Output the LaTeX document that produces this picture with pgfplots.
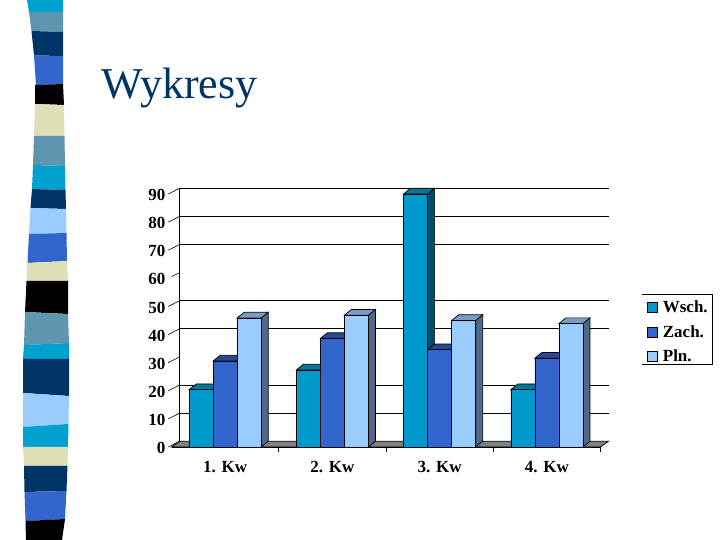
\documentclass[border=0pt]{standalone}
\usepackage{fontspec}
\setmainfont{Liberation Serif}
\usepackage{pgfplots}
\pgfplotsset{compat=1.18}
\definecolor{cyanB}{RGB}{0,153,204}
\definecolor{blueB}{RGB}{51,102,204}
\definecolor{lightB}{RGB}{153,204,255}
\definecolor{steelB}{RGB}{95,150,175}
\definecolor{navyB}{RGB}{0,51,102}
\definecolor{beigeB}{RGB}{224,224,184}
\definecolor{cyanS}{RGB}{0,160,208}
\definecolor{cyanSide}{RGB}{0,78,108}
\definecolor{cyanTop}{RGB}{0,118,152}
\definecolor{blueSide}{RGB}{38,72,140}
\definecolor{blueTop}{RGB}{38,72,150}
\definecolor{lightSide}{RGB}{78,106,136}
\definecolor{lightTop}{RGB}{120,155,200}
\definecolor{floorG}{RGB}{128,128,128}
\newcommand{\labelfont}{\fontsize{17pt}{20pt}\selectfont\bfseries}
% depth faces of one bar: category, series offset, value, side colour, top colour
\newcommand{\Depth}[5]{%
  \pgfmathsetmacro{\xl}{#1+#2*0.2239-0.3358}%
  \pgfmathsetmacro{\xr}{\xl+0.2239}%
  \pgfmathsetmacro{\xlb}{\xl+0.0653}%
  \pgfmathsetmacro{\xrb}{\xr+0.0653}%
  \pgfmathsetmacro{\vb}{#3+2.03}%
  \addplot[fill=#4,draw=black,line width=0.7pt,forget plot] coordinates {(\xr,0) (\xrb,2.03) (\xrb,\vb) (\xr,#3)} -- cycle;
  \addplot[fill=#5,draw=black,line width=0.7pt,forget plot] coordinates {(\xl,#3) (\xlb,\vb) (\xrb,\vb) (\xr,#3)} -- cycle;
}
\newcommand{\Band}[9]{\fill[#1] (#2,#3) -- (#4,#5) -- (#6,#7) -- (#8,#9) -- cycle;}
\begin{document}
\begin{tikzpicture}
\useasboundingbox (0,0) rectangle (720pt,540pt);
\fill[white] (0,0) rectangle (720pt,540pt);
% decorative strip, in pixels from the top left
\begin{scope}[x=1pt,y=-1pt,yshift=540pt]
\Band{cyanS}{27}{0}{63}{0}{63}{12}{29}{12}
\Band{steelB}{29}{12}{63}{12}{63}{32}{31.5}{31}
\Band{navyB}{31.5}{31}{63}{32}{63}{56}{34}{55.5}
\Band{blueB}{34}{55.5}{63}{56}{63}{84}{36}{85}
\Band{black}{35}{85}{63}{84}{64}{105}{35}{104}
\Band{beigeB}{35}{104}{64}{105}{64.5}{136}{34}{136}
\Band{steelB}{34}{136}{64.5}{136}{65}{166}{33}{165}
\Band{cyanS}{33}{165}{65}{166}{65.5}{190}{32}{189}
\Band{navyB}{32}{189}{65.5}{190}{66}{209}{30.5}{208}
\Band{lightB}{30.5}{208}{66}{209}{66.5}{233}{29}{234}
\Band{blueB}{29}{234}{66.5}{233}{67}{261}{27.5}{263}
\Band{beigeB}{27}{263}{67}{261}{68}{281}{26.5}{281}
\Band{black}{26.5}{281}{68}{281}{68}{314}{25}{312}
\Band{steelB}{25}{312}{68}{314}{69}{343}{24}{345}
\Band{cyanS}{24}{345}{69}{343}{69}{359}{23}{359}
\Band{navyB}{23}{359}{69}{359}{69}{396}{23}{393}
\Band{lightB}{23}{393}{69}{396}{68.5}{424}{23}{427}
\Band{cyanS}{23}{427}{68.5}{424}{68}{447}{23}{447}
\Band{beigeB}{23}{447}{68}{447}{67.5}{466}{24}{466}
\Band{navyB}{24}{466}{67.5}{466}{66.5}{491}{24.5}{492}
\Band{blueB}{24.5}{492}{66.5}{491}{65}{519}{25.5}{521}
\Band{black}{25.5}{521}{65}{519}{62}{540}{26}{540}
\node[anchor=base west,inner sep=0pt,text=navyB,font=\fontsize{44pt}{50pt}\selectfont] at (101,99) {Wykresy};
% legend frame: open on the left, as in the original
\draw[black,line width=0.9pt] (642,294.5) -- (712,294.5) -- (712,364) -- (642,364);
\end{scope}
\begin{axis}[
    at={(171.5pt,93pt)}, anchor=south west,
    width=429pt, height=253pt, scale only axis,
    xmin=-0.5, xmax=3.5, ymin=0, ymax=90,
    clip=false,
    axis x line*=bottom, axis y line*=left,
    y axis line style={draw=none},
    x axis line style={line width=0.8pt},
    xtick={0,1,2,3},
    xticklabels={1. Kw,2. Kw,3. Kw,4. Kw},
    minor xtick={0.5,1.5,2.5,3.5},
    ytick={0,10,...,90},
    tick align=outside,
    major tick length=0pt, minor tick length=5pt,
    tick style={black,line width=0.7pt},
    xticklabel style={font=\labelfont,yshift=-11pt},
    yticklabel style={font=\labelfont,inner sep=0pt,xshift=-6pt,yshift=-1pt},
    /pgf/number format/assume math mode=true,
    legend style={
        at={(1.106,0.5975)}, anchor=north west,
        draw=none, fill=none, font=\labelfont,
        inner xsep=1pt, inner ysep=3pt, row sep=7pt, cells={anchor=west},
    },
    legend cell align=left,
    legend image code/.code={\draw[#1,line width=0.7pt] (2pt,-5pt) rectangle (12pt,5pt); \path (15pt,0pt);},
]
% floor and back wall
\addplot[fill=floorG,draw=black,line width=0.7pt,forget plot] coordinates {(-0.5,0) (-0.4254,2.03) (3.5746,2.03) (3.5,0)} -- cycle;
\addplot[black,line width=0.8pt,forget plot] coordinates {(-0.4254,2.03) (-0.4254,92.03)};
\addplot[black,line width=0.8pt,forget plot] coordinates {(-0.4254,12.03) (3.5746,12.03)};
\addplot[black,line width=0.8pt,forget plot] coordinates {(-0.4254,22.03) (3.5746,22.03)};
\addplot[black,line width=0.8pt,forget plot] coordinates {(-0.4254,42.03) (3.5746,42.03)};
\addplot[black,line width=0.8pt,forget plot] coordinates {(-0.4254,52.03) (3.5746,52.03)};
\addplot[black,line width=0.8pt,forget plot] coordinates {(-0.4254,72.03) (3.5746,72.03)};
\addplot[black,line width=0.8pt,forget plot] coordinates {(-0.4254,82.03) (3.5746,82.03)};
\addplot[black,line width=0.8pt,forget plot] coordinates {(-0.4254,92.03) (3.5746,92.03)};
% diagonal ticks from the wall to the labels
\addplot[black,line width=0.6pt,forget plot] coordinates {(-0.4254,2.03) (-0.53,0)};
\addplot[black,line width=0.6pt,forget plot] coordinates {(-0.4254,12.03) (-0.53,10)};
\addplot[black,line width=0.6pt,forget plot] coordinates {(-0.4254,22.03) (-0.53,20)};
\addplot[black,line width=0.6pt,forget plot] coordinates {(-0.4254,32.03) (-0.53,30)};
\addplot[black,line width=0.6pt,forget plot] coordinates {(-0.4254,42.03) (-0.53,40)};
\addplot[black,line width=0.6pt,forget plot] coordinates {(-0.4254,52.03) (-0.53,50)};
\addplot[black,line width=0.6pt,forget plot] coordinates {(-0.4254,62.03) (-0.50,60.6)};
\addplot[black,line width=0.6pt,forget plot] coordinates {(-0.4254,72.03) (-0.53,70)};
\addplot[black,line width=0.6pt,forget plot] coordinates {(-0.4254,82.03) (-0.53,80)};
\addplot[black,line width=0.6pt,forget plot] coordinates {(-0.4254,92.03) (-0.53,90)};
% depth of the bars, back to front by series
\Depth{0}{0}{20.4}{cyanSide}{cyanTop}
\Depth{1}{0}{27.4}{cyanSide}{cyanTop}
\Depth{2}{0}{90}{cyanSide}{cyanTop}
\Depth{3}{0}{20.4}{cyanSide}{cyanTop}
\Depth{0}{1}{30.6}{blueSide}{blueTop}
\Depth{1}{1}{38.6}{blueSide}{blueTop}
\Depth{2}{1}{34.6}{blueSide}{blueTop}
\Depth{3}{1}{31.6}{blueSide}{blueTop}
\Depth{0}{2}{45.9}{lightSide}{lightTop}
\Depth{1}{2}{46.9}{lightSide}{lightTop}
\Depth{2}{2}{45}{lightSide}{lightTop}
\Depth{3}{2}{43.9}{lightSide}{lightTop}
% front faces
\addplot[ybar,bar width=24pt,bar shift=-24pt,fill=cyanB,draw=black,line width=0.7pt] coordinates {(0,20.4) (1,27.4) (2,90) (3,20.4)};
\addplot[ybar,bar width=24pt,bar shift=0pt,fill=blueB,draw=black,line width=0.7pt] coordinates {(0,30.6) (1,38.6) (2,34.6) (3,31.6)};
\addplot[ybar,bar width=24pt,bar shift=24pt,fill=lightB,draw=black,line width=0.7pt] coordinates {(0,45.9) (1,46.9) (2,45) (3,43.9)};
\legend{Wsch.,Zach.,Pln.}
\end{axis}
\end{tikzpicture}
\end{document}
